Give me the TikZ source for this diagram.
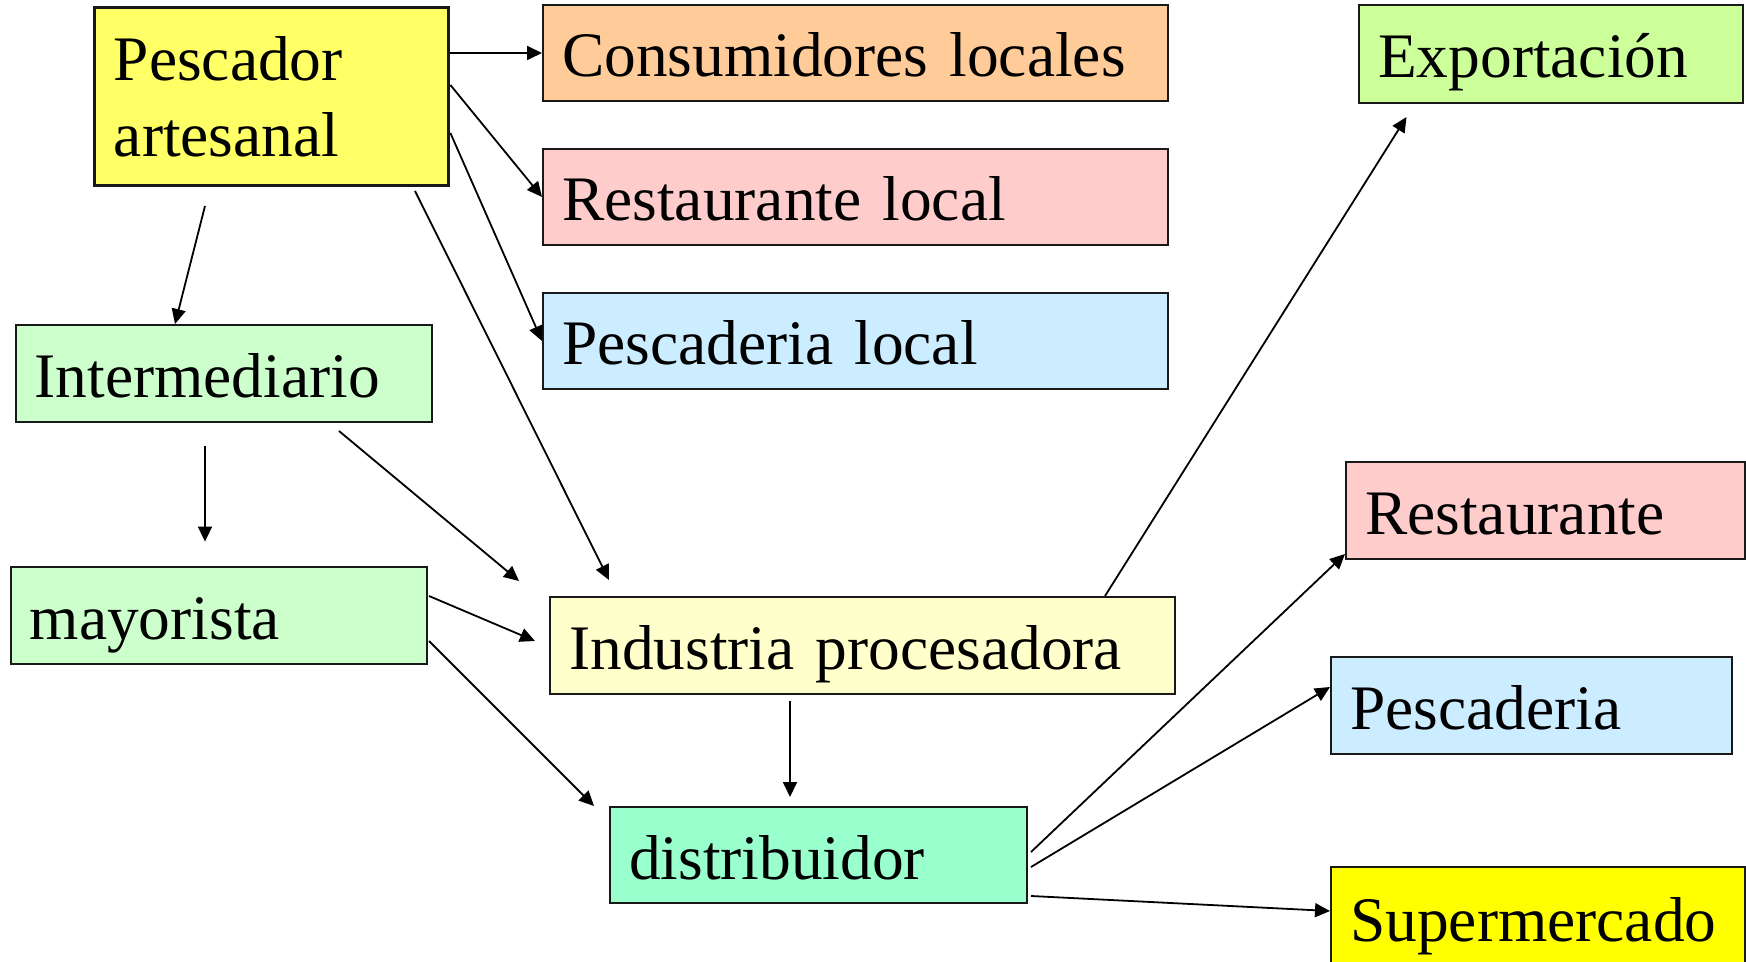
\documentclass[tikz,border=0pt]{standalone}
\usepackage{fontspec}
\setmainfont{Liberation Serif}
\usetikzlibrary{arrows.meta}
\newcommand\boxfont{\fontsize{31.7}{38}\selectfont}
\definecolor{cPes}{HTML}{FFFF66}
\definecolor{cCons}{HTML}{FFCC99}
\definecolor{cRest}{HTML}{FFCCCC}
\definecolor{cFish}{HTML}{CCECFF}
\definecolor{cGreen}{HTML}{CCFFCC}
\definecolor{cInd}{HTML}{FFFFCC}
\definecolor{cDist}{HTML}{99FFCC}
\definecolor{cExp}{HTML}{CCFF99}
\definecolor{cSup}{HTML}{FFFF00}
\begin{document}
\begin{tikzpicture}[x=0.5pt,y=-0.5pt,
  boxbase/.style={draw=black!90, line width=1pt, anchor=north west,
    inner xsep=9.6pt, inner ysep=0pt, align=left, font=\boxfont},
  box/.style={boxbase, text height=36pt, text depth=12pt},
  arr/.style={line width=0.9pt, -{Triangle[length=7.5pt,width=7pt]}}]
\useasboundingbox (0,0) rectangle (1746,962);
% nodes
\node[boxbase, line width=1.7pt, fill=cPes, text width=157.8pt, minimum height=89pt] (pes) at (93,6) {Pescador\\artesanal};
\node[box, fill=cCons, text width=293.3pt, minimum height=48pt] (cons) at (542,4) {Consumidores locales};
\node[box, fill=cRest, text width=293.3pt, minimum height=48pt] (restl) at (542,148) {Restaurante local};
\node[box, fill=cFish, text width=293.3pt, minimum height=48pt] (pescl) at (542,292) {Pescaderia local};
\node[box, fill=cGreen, text width=189.05pt, minimum height=48.5pt] (inter) at (14.5,324) {Intermediario};
\node[box, fill=cGreen, text width=188.8pt, minimum height=48.5pt] (may) at (9.6,566) {mayorista};
\node[box, fill=cInd, text width=293.3pt, minimum height=48.5pt] (ind) at (549,596) {Industria procesadora};
\node[box, fill=cDist, text width=189.3pt, minimum height=48pt] (dist) at (609,806) {distribuidor};
\node[box, fill=cExp, text width=172.8pt, minimum height=49pt] (exp) at (1358,4) {Exportación};
\node[box, fill=cRest, text width=180.3pt, minimum height=48.5pt] (rest) at (1345,461) {Restaurante};
\node[box, fill=cFish, text width=181.3pt, minimum height=48.5pt] (pescd) at (1330,656) {Pescaderia};
\node[box, fill=cSup, text width=187.8pt, minimum height=50pt] (super) at (1330,866) {Supermercado};
% connectors
\draw[arr] (pes.north east |- cons.west) -- (cons.west);
\draw[arr] ([shift={(0,79)}]pes.north east) -- (restl.west);
\draw[arr] ([shift={(0,127)}]pes.north east) -- (pescl.west);
\draw[arr] ([shift={(322,185)}]pes.north west) -- ([shift={(60,-16)}]ind.north west);
\draw[arr] ([shift={(112,200)}]pes.north west) -- ([shift={(160.5,0)}]inter.north west);
\draw[arr] ([shift={(190.5,122)}]inter.north west) -- ([shift={(195.4,-24.4)}]may.north west);
\draw[arr] ([shift={(324.5,107)}]inter.north west) -- ([shift={(-30,-15)}]ind.north west);
\draw[arr] ([shift={(419.4,30)}]may.north west) -- ([shift={(-14,45)}]ind.north west);
\draw[arr] ([shift={(419.4,75)}]may.north west) -- ([shift={(-15,0)}]dist.north west);
\draw[arr] ([shift={(241,105)}]ind.north west) -- ([shift={(181,-9)}]dist.north west);
\draw[arr] ([shift={(556,0)}]ind.north west) -- ([shift={(48.5,113)}]exp.north west);
\draw[arr] ([shift={(3,46)}]dist.north east) -- ([shift={(0,-6)}]rest.south west);
\draw[arr] ([shift={(3,61)}]dist.north east) -- ([shift={(0,31)}]pescd.north west);
\draw[arr] ([shift={(3,90)}]dist.north east) -- ([shift={(0,45)}]super.north west);
\end{tikzpicture}
\end{document}
